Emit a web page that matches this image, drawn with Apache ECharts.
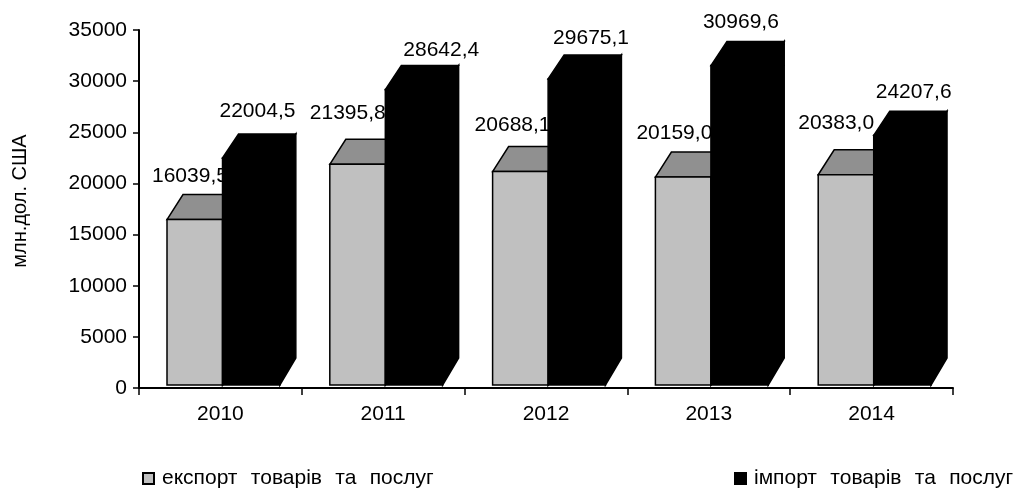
<!DOCTYPE html>
<html>
<head>
<meta charset="utf-8">
<style>html,body{margin:0;padding:0;background:#fff}#chart{width:1013px;height:489px}</style>
<script src="https://cdn.jsdelivr.net/npm/echarts@6/dist/echarts.min.js"></script>
</head>
<body>
<div id="chart"></div>
<script>
const years = ['2010', '2011', '2012', '2013', '2014'];
const exportValues = [16039.5, 21395.8, 20688.1, 20159.0, 20383.0];
const importValues = [22004.5, 28642.4, 29675.1, 30969.6, 24207.6];
const exportName = 'експорт товарів та послуг';
const importName = 'імпорт товарів та послуг';
const axisTitle = 'млн.дол. США';

// Hand placed value captions: shift from the front-left corner and back-top edge of each box.
const exportCaptionShift = [[-15, -18], [-20, -26], [-18, -21], [-19, -19], [-20, -27]];
const importCaptionShift = [[-3, -23], [18, -15], [5, -17], [-8, -19], [2, -19]];

const FONT = '"Liberation Sans", Arial, sans-serif';
const DEPTH_X = 16, BASE_DEPTH_Y = 27;
const caption = v => v.toFixed(1).replace('.', ',');

// Pseudo-3D box: front face, lid and side are all projected from the axis scales.
function box(api, leftShare, widthShare, lidDepth, frontFill, lidFill, sideFill, shift) {
  const value = api.value(1);
  const idx = api.value(0);
  const top = api.coord([idx, value]);
  const base = api.coord([idx, 0]);
  const band = api.size([1, 0])[0];
  const x0 = top[0] + leftShare * band;
  const x1 = x0 + widthShare * band;
  const yt = top[1], yb = base[1];
  const line = { stroke: '#000', lineWidth: 1.5, lineJoin: 'miter' };
  const poly = (points, fill) => ({ type: 'polygon', shape: { points }, style: { fill, ...line } });
  return {
    type: 'group',
    children: [
      poly([[x1, yb], [x1 + DEPTH_X, yb - BASE_DEPTH_Y], [x1 + DEPTH_X, yt - lidDepth], [x1, yt]], sideFill),
      poly([[x0, yt], [x0 + DEPTH_X, yt - lidDepth], [x1 + DEPTH_X, yt - lidDepth], [x1, yt]], lidFill),
      poly([[x0, yb], [x0, yt], [x1, yt], [x1, yb]], frontFill),
      {
        type: 'text',
        style: {
          text: caption(value),
          x: x0 + shift[idx][0],
          y: yt - lidDepth + shift[idx][1],
          align: 'left',
          verticalAlign: 'middle',
          fontFamily: FONT,
          fontSize: 21,
          fill: '#000'
        }
      }
    ]
  };
}

const pairs = values => values.map((v, i) => [i, v]);
const legendBase = {
  top: 468,
  padding: 0,
  itemWidth: 11,
  itemHeight: 11,
  itemGap: 0,
  icon: 'rect',
  // Each word is its own rich token so the word gaps can be opened up.
  formatter: name => name.split(' ').map(word => `{w|${word}}`).join(' '),
  textStyle: {
    fontFamily: FONT,
    fontSize: 21,
    color: '#000',
    rich: { w: { fontFamily: FONT, fontSize: 21, color: '#000', padding: [0, 4.5, 0, 3] } }
  }
};

const chart = echarts.init(document.getElementById('chart'), null, { renderer: 'canvas' });
chart.setOption({
  animation: false,
  backgroundColor: '#fff',
  // Visible axes, and a hidden pair that the boxes stand on, slightly raised above the base line.
  grid: [
    { left: 139, width: 814, top: 30, height: 358, outerBoundsMode: 'none' },
    { left: 139, width: 814, top: 24, height: 361, outerBoundsMode: 'none' }
  ],
  xAxis: [
    {
      gridIndex: 0,
      type: 'category',
      data: years,
      axisLine: { lineStyle: { color: '#000', width: 2 } },
      axisTick: { show: true, length: 7, lineStyle: { color: '#000', width: 1.5 } },
      axisLabel: { color: '#000', fontFamily: FONT, fontSize: 21, margin: 16 }
    },
    { gridIndex: 1, type: 'category', data: years, show: false }
  ],
  yAxis: [
    {
      gridIndex: 0,
      type: 'value',
      min: 0,
      max: 35000,
      interval: 5000,
      name: axisTitle,
      nameLocation: 'middle',
      nameGap: 109,
      nameTextStyle: { color: '#000', fontFamily: FONT, fontSize: 20, padding: [0, 0, 0, 16] },
      splitLine: { show: false },
      axisLine: { show: true, lineStyle: { color: '#000', width: 2 } },
      axisTick: { show: true, length: 6, lineStyle: { color: '#000', width: 1.5 } },
      axisLabel: { color: '#000', fontFamily: FONT, fontSize: 21, margin: 12, formatter: v => String(v) }
    },
    { gridIndex: 1, type: 'value', min: 0, max: 35000, show: false }
  ],
  legend: [
    { ...legendBase, left: 142, data: [exportName] },
    { ...legendBase, left: 734, data: [importName] }
  ],
  series: [
    {
      type: 'custom',
      name: exportName,
      xAxisIndex: 1,
      yAxisIndex: 1,
      z: 2,
      itemStyle: { color: '#C0C0C0', borderColor: '#000', borderWidth: 1.5 },
      encode: { x: 0, y: 1 },
      data: pairs(exportValues),
      renderItem: (params, api) => box(api, -0.328, 0.341, 25, '#C0C0C0', '#909090', '#707070', exportCaptionShift)
    },
    {
      type: 'custom',
      name: importName,
      xAxisIndex: 1,
      yAxisIndex: 1,
      z: 3,
      itemStyle: { color: '#000', borderColor: '#000', borderWidth: 1.5 },
      encode: { x: 0, y: 1 },
      data: pairs(importValues),
      renderItem: (params, api) => box(api, 0.013, 0.352, 24, '#000', '#000', '#000', importCaptionShift)
    }
  ]
});
</script>
</body>
</html>
